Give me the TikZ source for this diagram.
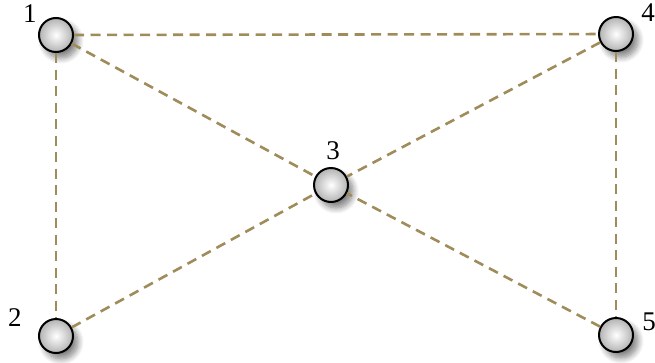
\documentclass[tikz,border=0pt]{standalone}
\usepackage{fontspec}
\setmainfont{Liberation Serif}
\usetikzlibrary{shadows.blur}
\begin{document}
\begin{tikzpicture}[x=1pt,y=-1pt,
  vtx/.style={circle,draw=black,line width=2pt,minimum size=34pt,inner sep=0pt,
    shading=radial,inner color=white,outer color=gray!60,
    blur shadow={shadow xshift=5pt,shadow yshift=-6pt,shadow blur steps=10,shadow blur radius=6pt,shadow opacity=50}},
  lnk/.style={draw={rgb,255:red,160;green,140;blue,90},line width=2.6pt,dash pattern=on 10pt off 6.5pt},
  lbl/.style={font=\fontsize{27}{27}\selectfont,inner sep=0pt}]
\useasboundingbox (0,0) rectangle (655,362);
\node[vtx] (n1) at (56,35) {};
\node[vtx] (n4) at (616,34) {};
\node[vtx] (n3) at (331,185) {};
\node[vtx] (n2) at (56,336) {};
\node[vtx] (n5) at (616,335) {};
\draw[lnk] (n1) -- (n4);
\draw[lnk] (n1) -- (n2);
\draw[lnk] (n4) -- (n5);
\draw[lnk] (n1) -- (n3);
\draw[lnk] (n4) -- (n3);
\draw[lnk] (n2) -- (n3);
\draw[lnk] (n5) -- (n3);
\node[lbl] (l1) at (30,14) {1};
\node[lbl] (l4) at (648,13) {4};
\node[lbl] (l3) at (333,151) {3};
\node[lbl] (l2) at (15,318) {2};
\node[lbl] (l5) at (649,322) {5};
\end{tikzpicture}
\end{document}
